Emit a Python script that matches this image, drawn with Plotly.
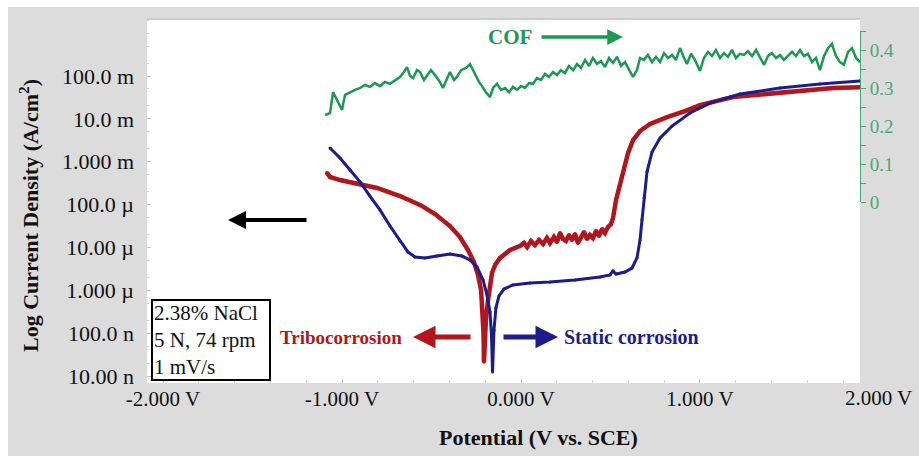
import plotly.graph_objects as go

# ---- Polarization data (potential in V vs. SCE, current density in A/cm^2) ----
static_potential = [
    -1.067, -1.011, -0.955, -0.899, -0.844, -0.788, -0.732, -0.676, -0.631, -0.592,
    -0.536, -0.469, -0.397, -0.330, -0.285, -0.246, -0.212, -0.190, -0.173, -0.165,
    -0.159, -0.151, -0.140, -0.123, -0.095, -0.045, 0.050, 0.162, 0.302, 0.441,
    0.497, 0.514, 0.531, 0.581, 0.620, 0.648, 0.665, 0.676, 0.687, 0.704,
    0.732, 0.777, 0.844, 0.944, 1.056, 1.223, 1.447, 1.670, 1.894,
]
static_current = [
    2.09e-3, 1.22e-3, 6.4e-4, 3.4e-4, 1.58e-4, 7.5e-5, 3.16e-5, 1.41e-5, 7.8e-6, 6.0e-6,
    5.7e-6, 6.3e-6, 7.0e-6, 6.3e-6, 5.1e-6, 3.5e-6, 1.74e-6, 7.8e-7, 3.1e-7, 9.1e-8,
    1.24e-8, 1.17e-7, 3.9e-7, 7.4e-7, 1.07e-6, 1.33e-6, 1.48e-6, 1.56e-6, 1.74e-6, 2.04e-6,
    2.28e-6, 2.82e-6, 2.4e-6, 2.67e-6, 3.3e-6, 5.7e-6, 1.49e-5, 4.37e-5, 1.43e-4, 5.8e-4,
    1.69e-3, 3.57e-3, 6.8e-3, 1.37e-2, 2.34e-2, 3.8e-2, 5.25e-2, 6.5e-2, 7.6e-2,
]

tribo_potential = [
    -1.084, -1.067, -1.011, -0.927, -0.804, -0.676, -0.564, -0.480, -0.397, -0.341,
    -0.296, -0.263, -0.240, -0.223, -0.215, -0.209, -0.207, -0.196, -0.184, -0.173,
    -0.162, -0.145, -0.117, -0.061, -0.006, 0.017, 0.034, 0.056, 0.078, 0.101,
    0.123, 0.145, 0.162, 0.184, 0.201, 0.218, 0.235, 0.251, 0.268, 0.285,
    0.302, 0.318, 0.335, 0.352, 0.369, 0.385, 0.402, 0.419, 0.436, 0.453,
    0.469, 0.486, 0.503, 0.514, 0.531, 0.553, 0.575, 0.598, 0.626, 0.665,
    0.721, 0.816, 0.916, 1.000, 1.184, 1.464, 1.743, 1.894,
]
tribo_current = [
    5.46e-4, 4.4e-4, 3.74e-4, 3.18e-4, 2.44e-4, 1.58e-4, 9.8e-5, 6.0e-5, 3.16e-5, 1.75e-5,
    8.7e-6, 4.57e-6, 2.28e-6, 1.02e-6, 3.47e-7, 9.1e-8, 2.14e-8, 2.04e-7, 5.9e-7, 1.33e-6,
    2.54e-6, 3.9e-6, 5.7e-6, 8.7e-6, 1.08e-5, 1.27e-5, 1.02e-5, 1.41e-5, 1.14e-5, 1.49e-5,
    1.20e-5, 1.66e-5, 1.27e-5, 1.75e-5, 1.34e-5, 2.17e-5, 1.57e-5, 1.41e-5, 1.95e-5, 1.49e-5,
    2.06e-5, 1.27e-5, 1.66e-5, 2.29e-5, 1.57e-5, 1.95e-5, 1.66e-5, 2.42e-5, 1.85e-5, 2.69e-5,
    2.17e-5, 3.0e-5, 3.52e-5, 4.86e-5, 1.28e-4, 2.86e-4, 7.1e-4, 1.6e-3, 3.2e-3, 5.2e-3,
    7.6e-3, 1.1e-2, 1.52e-2, 2.1e-2, 3.24e-2, 4.24e-2, 5.25e-2, 5.5e-2,
]

# ---- Coefficient of friction recorded during the tribocorrosion scan ----
cof_potential = [
    -1.095, -1.067, -1.050, -1.028, -1.000, -0.983, -0.955, -0.927, -0.899, -0.872,
    -0.844, -0.816, -0.788, -0.760, -0.732, -0.704, -0.676, -0.654, -0.637, -0.620,
    -0.603, -0.581, -0.564, -0.542, -0.525, -0.503, -0.480, -0.453, -0.436, -0.413,
    -0.397, -0.374, -0.358, -0.335, -0.307, -0.285, -0.268, -0.251, -0.235, -0.218,
    -0.196, -0.173, -0.156, -0.134, -0.112, -0.089, -0.067, -0.045, -0.022, 0.000,
    0.022, 0.045, 0.067, 0.089, 0.112, 0.134, 0.156, 0.179, 0.201, 0.223,
    0.246, 0.268, 0.291, 0.313, 0.335, 0.358, 0.380, 0.402, 0.425, 0.447,
    0.469, 0.492, 0.514, 0.536, 0.559, 0.581, 0.603, 0.626, 0.648, 0.665,
    0.687, 0.709, 0.732, 0.754, 0.777, 0.799, 0.821, 0.844, 0.866, 0.888,
    0.911, 0.927, 0.950, 0.972, 1.000, 1.022, 1.045, 1.067, 1.089, 1.112,
    1.134, 1.156, 1.179, 1.201, 1.223, 1.246, 1.268, 1.291, 1.313, 1.335,
    1.358, 1.380, 1.402, 1.425, 1.447, 1.469, 1.492, 1.514, 1.536, 1.559,
    1.581, 1.603, 1.626, 1.648, 1.670, 1.693, 1.715, 1.737, 1.760, 1.782,
    1.804, 1.827, 1.849, 1.872, 1.894,
]
cof_value = [
    0.229, 0.234, 0.289, 0.268, 0.242, 0.282, 0.289, 0.295, 0.300, 0.308,
    0.303, 0.313, 0.305, 0.316, 0.311, 0.321, 0.329, 0.342, 0.355, 0.332,
    0.326, 0.347, 0.342, 0.321, 0.332, 0.347, 0.334, 0.316, 0.300, 0.326,
    0.342, 0.321, 0.329, 0.347, 0.353, 0.363, 0.347, 0.334, 0.316, 0.305,
    0.289, 0.276, 0.300, 0.311, 0.295, 0.300, 0.289, 0.303, 0.295, 0.305,
    0.300, 0.313, 0.311, 0.326, 0.321, 0.337, 0.329, 0.342, 0.334, 0.347,
    0.339, 0.358, 0.347, 0.363, 0.353, 0.374, 0.358, 0.379, 0.363, 0.371,
    0.355, 0.379, 0.366, 0.382, 0.358, 0.368, 0.347, 0.329, 0.347, 0.379,
    0.374, 0.387, 0.368, 0.382, 0.368, 0.392, 0.379, 0.387, 0.374, 0.405,
    0.379, 0.363, 0.390, 0.374, 0.345, 0.379, 0.395, 0.384, 0.400, 0.379,
    0.392, 0.382, 0.400, 0.379, 0.390, 0.387, 0.397, 0.384, 0.400, 0.379,
    0.361, 0.384, 0.392, 0.379, 0.387, 0.374, 0.384, 0.395, 0.384, 0.400,
    0.384, 0.390, 0.368, 0.379, 0.347, 0.384, 0.405, 0.416, 0.384, 0.368,
    0.361, 0.395, 0.405, 0.379, 0.368,
]

# ---- Axis ticks ----
current_ticks = [1e-8, 1e-7, 1e-6, 1e-5, 1e-4, 1e-3, 1e-2, 1e-1]
current_tick_text = ["10.00 n", "100.0 n", "1.000 µ", "10.00 µ", "100.0 µ",
                     "1.000 m", "10.0 m", "100.0 m"]
potential_ticks = [-2, -1, 0, 1, 2]
potential_tick_text = ["-2.000 V", "-1.000 V", "0.000 V", "1.000 V", "2.000 V"]
cof_ticks = [0, 0.1, 0.2, 0.3, 0.4]
cof_tick_text = ["0", "0.1", "0.2", "0.3", "0.4"]

# ---- Styling ----
FONT = "Liberation Serif, Times New Roman, serif"
RED = "#b0161c"
BLUE = "#1b1d8a"
GREEN = "#1c9853"
GREEN_AXIS = "#4aa874"
PANEL = "#dcdcdc"

W, H = 919, 456
L, R, T, B = 147, 59, 19, 73
X_RANGE = [-2.0894, 1.8939]
Y_RANGE = [-8.163, 0.33]
COF_RANGE = [0, 0.451]


def px_x(px):
    """Horizontal pixel -> paper fraction."""
    return (px - L) / (W - L - R)


def px_y(py):
    """Vertical pixel -> paper fraction."""
    return (H - B - py) / (H - T - B)


fig = go.Figure()

fig.add_trace(go.Scatter(
    x=tribo_potential, y=tribo_current, mode="lines+markers",
    line=dict(color=RED, width=4.5), marker=dict(color=RED, size=4),
    name="Tribocorrosion", xaxis="x", yaxis="y",
))
fig.add_trace(go.Scatter(
    x=static_potential, y=static_current, mode="lines+markers",
    line=dict(color=BLUE, width=3), marker=dict(color=BLUE, size=3),
    name="Static corrosion", xaxis="x", yaxis="y",
))
fig.add_trace(go.Scatter(
    x=cof_potential, y=cof_value, mode="lines",
    line=dict(color=GREEN, width=2.5),
    name="COF", xaxis="x", yaxis="y2",
))

tick_font = dict(family=FONT, size=21, color="#111111")
ytick_font = dict(family=FONT, size=22, color="#111111")

fig.update_layout(
    width=W, height=H,
    margin=dict(l=L, r=R, t=T, b=B, pad=0),
    paper_bgcolor=PANEL,
    plot_bgcolor="rgba(0,0,0,0)",
    showlegend=False,
    xaxis=dict(
        range=X_RANGE, tickmode="array", tickvals=potential_ticks,
        ticktext=potential_tick_text, tickfont=tick_font,
        showgrid=False, zeroline=False, showline=False,
        ticks="inside", ticklen=4, tickcolor="#c4c4c4",
        minor=dict(ticks="inside", ticklen=3, dtick=0.2, tickcolor="#cfcfcf"),
        ticklabelstandoff=1,
    ),
    yaxis=dict(
        type="log", range=Y_RANGE, tickmode="array", tickvals=current_ticks,
        ticktext=current_tick_text, tickfont=ytick_font,
        showgrid=False, zeroline=False, showline=False,
        ticks="inside", ticklen=4, tickcolor="#c4c4c4",
        minor=dict(ticks="inside", ticklen=2, tickcolor="#d4d4d4"),
        ticklabelstandoff=12,
    ),
    yaxis2=dict(
        domain=[px_y(202), px_y(202 - COF_RANGE[1] * 380)],
        range=COF_RANGE, anchor="x", side="right",
        tickmode="array", tickvals=cof_ticks, ticktext=cof_tick_text,
        tickfont=dict(family=FONT, size=19, color=GREEN_AXIS),
        showgrid=False, zeroline=False,
        showline=True, linecolor=GREEN_AXIS, linewidth=1,
        ticks="outside", ticklen=5, tickcolor=GREEN_AXIS,
        minor=dict(ticks="outside", ticklen=5, dtick=0.05, tickcolor=GREEN_AXIS),
    ),
)

# white plotting area, white edge strips and the thin frame line above the plot
fig.add_shape(type="rect", xref="paper", yref="paper",
              x0=0, x1=1, y0=0, y1=1,
              fillcolor="white", line=dict(width=0), layer="below")
fig.add_shape(type="rect", xref="paper", yref="paper",
              x0=px_x(0), x1=px_x(8), y0=px_y(H), y1=px_y(0),
              fillcolor="white", line=dict(width=0), layer="below")
fig.add_shape(type="rect", xref="paper", yref="paper",
              x0=px_x(0), x1=px_x(W), y0=px_y(7), y1=px_y(0),
              fillcolor="white", line=dict(width=0), layer="below")
fig.add_shape(type="line", xref="paper", yref="paper",
              x0=0, x1=1, y0=1, y1=1, line=dict(color="#c2c2c2", width=1.5),
              layer="below")

# last potential tick label sits just past the end of the potential axis
x_frac = (potential_ticks[-1] - X_RANGE[0]) / (X_RANGE[1] - X_RANGE[0])
fig.add_annotation(x=x_frac, y=0, xref="paper", yref="paper",
                   xanchor="center", yanchor="top", yshift=-1,
                   text=potential_tick_text[-1], showarrow=False, font=tick_font)

# axis titles
fig.add_annotation(x=px_x(29), y=px_y(216), xref="paper", yref="paper",
                   text="<b>Log Current Density (A/cm<sup>2</sup>)</b>", textangle=-90,
                   showarrow=False, xanchor="center", yanchor="middle",
                   font=dict(family=FONT, size=22, color="#111111"))
fig.add_annotation(x=px_x(538), y=px_y(438), xref="paper", yref="paper",
                   text="<b>Potential (V vs. SCE)</b>",
                   showarrow=False, xanchor="center", yanchor="middle",
                   font=dict(family=FONT, size=22, color="#111111"))

# test conditions box
fig.add_annotation(x=px_x(151), y=px_y(299), xref="paper", yref="paper",
                   text="2.38% NaCl<br>5 N, 74 rpm<br>1 mV/s", align="left",
                   showarrow=False, xanchor="left", yanchor="top",
                   width=114, height=76, borderpad=1,
                   bordercolor="black", borderwidth=2, bgcolor="white",
                   font=dict(family=FONT, size=21, color="#111111"))

# curve labels
fig.add_annotation(x=px_x(341), y=px_y(337), xref="paper", yref="paper",
                   text="<b>Tribocorrosion</b>", showarrow=False,
                   xanchor="center", yanchor="middle",
                   font=dict(family=FONT, size=19, color=RED))
fig.add_annotation(x=px_x(631), y=px_y(337), xref="paper", yref="paper",
                   text="<b>Static corrosion</b>", showarrow=False,
                   xanchor="center", yanchor="middle",
                   font=dict(family=FONT, size=20, color=BLUE))
fig.add_annotation(x=px_x(510), y=px_y(37), xref="paper", yref="paper",
                   text="<b>COF</b>", showarrow=False,
                   xanchor="center", yanchor="middle",
                   font=dict(family=FONT, size=21, color=GREEN))

# arrows pointing each curve to its axis
arrows = [
    (px_x(623), px_y(37), -83, GREEN, 3.5),
    (px_x(228), px_y(220), 80, "black", 4),
    (px_x(413), px_y(337), 59, RED, 5),
    (px_x(558), px_y(337), -56, BLUE, 5),
]
for ax_x, ax_y, dx, color, width in arrows:
    fig.add_annotation(x=ax_x, y=ax_y, xref="paper", yref="paper",
                       ax=dx, ay=0, text="", showarrow=True,
                       arrowhead=2, arrowsize=0.9, arrowwidth=width,
                       arrowcolor=color, standoff=0)

fig.write_html("out.html", config={"displayModeBar": False})
